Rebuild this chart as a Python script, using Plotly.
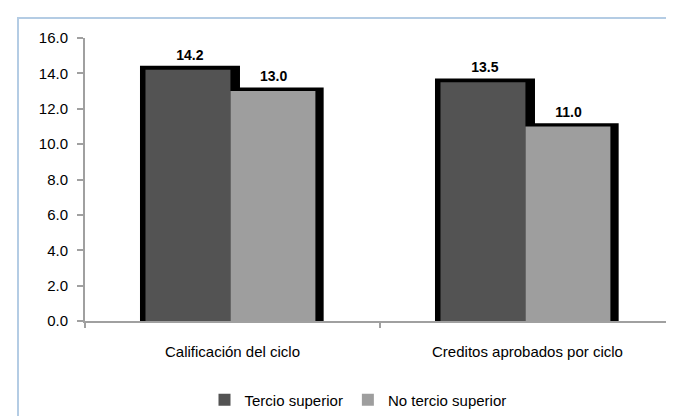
import plotly.graph_objects as go

categories = ["Calificación del ciclo", "Creditos aprobados por ciclo"]
tercio_superior = [14.2, 13.5]
no_tercio_superior = [13.0, 11.0]
series_names = ["Tercio superior", "No tercio superior"]
y_ticks = [0, 2, 4, 6, 8, 10, 12, 14, 16]

FONT = "Liberation Sans, Arial, sans-serif"
DARK = "#535353"
LIGHT = "#9e9e9e"

fig = go.Figure()

# black drop-shadow bars (behind), on hidden axis y
fig.add_trace(go.Bar(x=categories, y=tercio_superior, yaxis="y", marker=dict(color="black", line=dict(width=0)),
                     offset=-0.3136, width=0.339, showlegend=False, hoverinfo="skip",
                     text=[f"{v:.1f}" for v in tercio_superior], textposition="outside",
                     textfont=dict(family=FONT, size=14, color="black", weight="bold"), cliponaxis=False))
fig.add_trace(go.Bar(x=categories, y=no_tercio_superior, yaxis="y", marker=dict(color="black", line=dict(width=0)),
                     offset=-0.03, width=0.339, showlegend=False, hoverinfo="skip",
                     text=[f"{v:.1f}" for v in no_tercio_superior], textposition="outside",
                     textfont=dict(family=FONT, size=14, color="black", weight="bold"), cliponaxis=False))

# main bars on visible axis y2
fig.add_trace(go.Bar(x=categories, y=tercio_superior, yaxis="y2", name=series_names[0],
                     marker=dict(color=DARK, line=dict(width=0)), offset=-0.295, width=0.288))
fig.add_trace(go.Bar(x=categories, y=no_tercio_superior, yaxis="y2", name=series_names[1],
                     marker=dict(color=LIGHT, line=dict(width=0)), offset=-0.007, width=0.288))

L, R, T, B = 77, 7, 30, 103
W, H = 674, 416
pw, ph = W - L - R, H - T - B

fig.update_layout(
    width=W, height=H,
    margin=dict(l=L, r=R, t=T, b=B),
    barmode="overlay",
    paper_bgcolor="white", plot_bgcolor="white",
    font=dict(family=FONT, size=15, color="black"),
    xaxis=dict(type="category", showline=True, linecolor="#a0a0a0", linewidth=2,
               ticks="outside", tickson="boundaries", ticklen=5, tickcolor="#a0a0a0", tickwidth=2,
               ticklabelstandoff=16, showgrid=False, zeroline=False,
               tickfont=dict(family=FONT, size=15, color="black")),
    yaxis=dict(range=[0, 15.75], visible=False, showgrid=False, zeroline=False),
    yaxis2=dict(range=[0, 16], overlaying="y", side="left", tickvals=y_ticks,
                ticktext=[f"{v:.1f}" for v in y_ticks], showline=True, linecolor="#a0a0a0",
                linewidth=2, ticks="outside", ticklen=6, tickcolor="#a0a0a0", tickwidth=2,
                showgrid=False, zeroline=False, ticklabelstandoff=6,
                tickfont=dict(family=FONT, size=15, color="black")),
    legend=dict(orientation="h", x=(350 - L) / pw, xanchor="center", y=(313 - 392) / ph,
                yanchor="middle", font=dict(family=FONT, size=15, color="black"),
                itemwidth=30, bgcolor="rgba(0,0,0,0)"),
    shapes=[dict(type="rect", xref="paper", yref="paper",
                 x0=(10 - L) / pw, x1=(W + 20 - L) / pw,
                 y0=(313 - (H + 20)) / ph, y1=1 + (T - 10) / ph,
                 line=dict(color="#b4cce4", width=2), fillcolor="rgba(0,0,0,0)", layer="below")],
)

fig.write_html("out.html")
